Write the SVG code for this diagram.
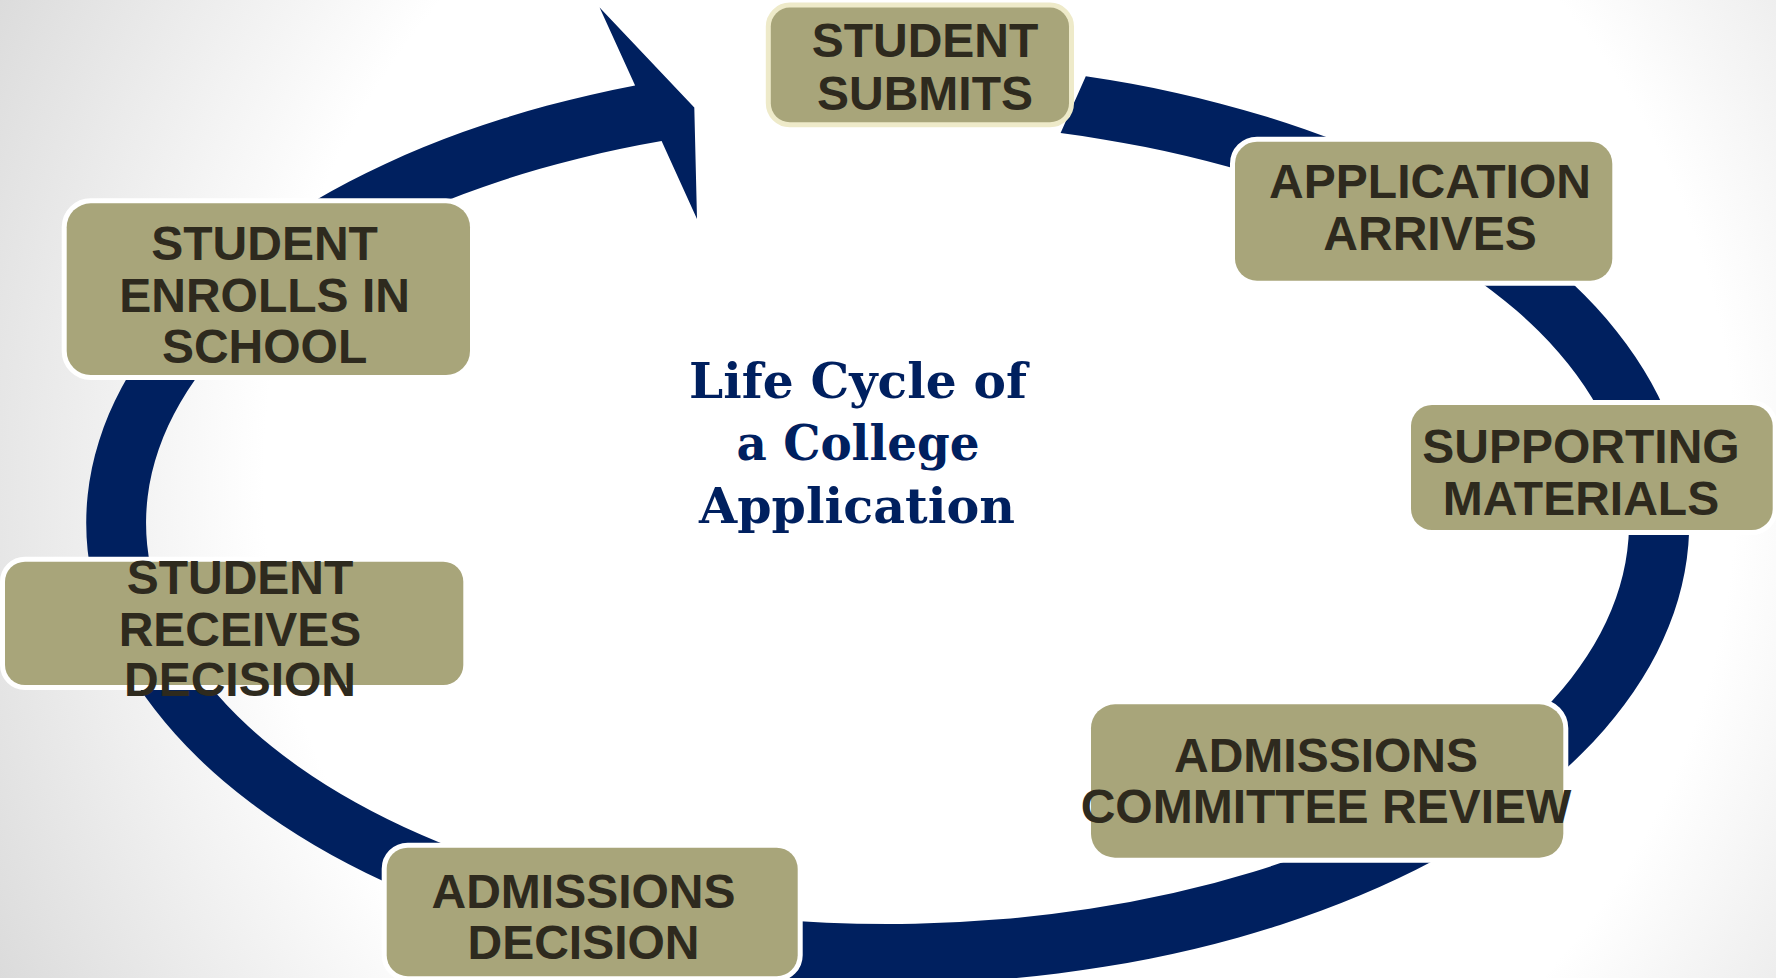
<svg xmlns="http://www.w3.org/2000/svg" width="1776" height="978" viewBox="0 0 1776 978">
  <defs>
    <radialGradient id="bg" gradientUnits="userSpaceOnUse" cx="1000" cy="480" r="1150">
      <stop offset="0" stop-color="#FFFFFF"/>
      <stop offset="0.64" stop-color="#FFFFFF"/>
      <stop offset="1" stop-color="#D8D8D8"/>
    </radialGradient>
    <style>
      .box { fill: #A8A57A; stroke: #FFFFFF; stroke-width: 10; paint-order: stroke; }
      .box.first { stroke: #EEEAC9; }
      .lbl { font-family: "Liberation Sans", Arial, sans-serif; font-weight: bold; font-size: 48px; fill: #2E2A1E; text-anchor: middle; }
      .title { font-family: "DejaVu Serif", "Liberation Serif", serif; font-weight: bold; font-size: 48px; fill: #00205F; text-anchor: middle; }
      .ring { fill: #00205F; }
    </style>
  </defs>

  <rect x="0" y="0" width="1776" height="978" fill="url(#bg)"/>

  <g id="connectors">
    <path class="ring" d="M 1085.8 76.3 A 801.5 461 0 1 1 635.1 85.5 L 599.6 7.6 L 694.3 107.4 L 697 219 L 661.6 141.1 A 741.5 401 0 1 0 1060.6 133.1 Z"/>
  </g>

  <g id="title">
    <text class="title" x="858" y="398" textLength="338" lengthAdjust="spacingAndGlyphs">Life Cycle of</text>
    <text class="title" x="858" y="460" textLength="243" lengthAdjust="spacingAndGlyphs">a College</text>
    <text class="title" x="857" y="523" textLength="316" lengthAdjust="spacingAndGlyphs">Application</text>
  </g>

  <g id="node-student-submits">
    <rect class="box first" x="770.8" y="7.6" width="298.2" height="114.7" rx="19" ry="19"/>
    <text class="lbl" x="925" y="57">STUDENT</text>
    <text class="lbl" x="925" y="109.5">SUBMITS</text>
  </g>

  <g id="node-application-arrives">
    <rect class="box" x="1235" y="141.7" width="377.3" height="139" rx="22" ry="22"/>
    <text class="lbl" x="1430" y="197.7">APPLICATION</text>
    <text class="lbl" x="1430" y="250">ARRIVES</text>
  </g>

  <g id="node-supporting-materials">
    <rect class="box" x="1411" y="405" width="361.7" height="125" rx="21" ry="21"/>
    <text class="lbl" x="1581" y="462.7">SUPPORTING</text>
    <text class="lbl" x="1581" y="515">MATERIALS</text>
  </g>

  <g id="node-committee-review">
    <rect class="box" x="1091" y="704.3" width="472.3" height="153.4" rx="24" ry="24"/>
    <text class="lbl" x="1326" y="771.7">ADMISSIONS</text>
    <text class="lbl" x="1326" y="822.7">COMMITTEE REVIEW</text>
  </g>

  <g id="node-admissions-decision">
    <rect class="box" x="386.7" y="847.7" width="411" height="128.5" rx="21" ry="21"/>
    <text class="lbl" x="583.5" y="908.3">ADMISSIONS</text>
    <text class="lbl" x="583.5" y="959">DECISION</text>
  </g>

  <g id="node-student-receives">
    <rect class="box" x="5" y="561.7" width="458.3" height="123.3" rx="20" ry="20"/>
    <text class="lbl" x="240" y="594">STUDENT</text>
    <text class="lbl" x="240" y="645.5">RECEIVES</text>
    <text class="lbl" x="240" y="696">DECISION</text>
  </g>

  <g id="node-student-enrolls">
    <rect class="box" x="66.7" y="203.3" width="403.3" height="171.7" rx="24" ry="24"/>
    <text class="lbl" x="264.6" y="260">STUDENT</text>
    <text class="lbl" x="264.6" y="311.5">ENROLLS IN</text>
    <text class="lbl" x="264.6" y="363">SCHOOL</text>
  </g>
</svg>
